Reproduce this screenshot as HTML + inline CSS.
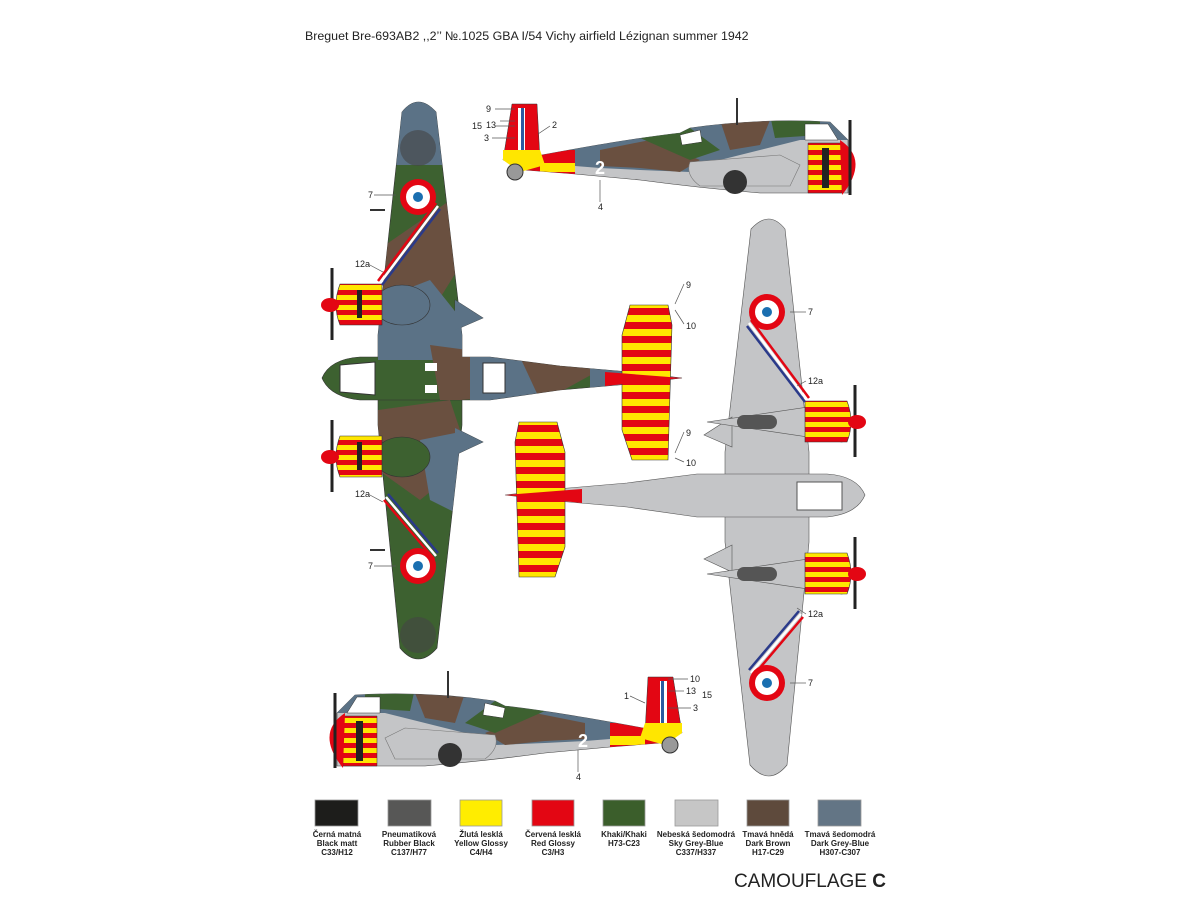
<!DOCTYPE html>
<html><head><meta charset="utf-8"><style>
html,body{margin:0;padding:0;background:#fff}
svg{display:block}
text{font-family:"Liberation Sans",sans-serif}
</style></head><body>
<svg width="1200" height="900" viewBox="0 0 1200 900" xmlns="http://www.w3.org/2000/svg">
<defs>
<pattern id="ry" width="14" height="14" patternUnits="userSpaceOnUse">
<rect width="14" height="14" fill="#ffe600"/><rect width="14" height="7" fill="#e30613"/></pattern>
<pattern id="rys" width="10" height="10" patternUnits="userSpaceOnUse">
<rect width="10" height="10" fill="#ffe600"/><rect width="10" height="5" fill="#e30613"/></pattern>
<g id="wing">
<path d="M402,112 Q418,92 436,112 L462,335 L462,425 L437,648 Q418,670 400,648 L378,425 L378,335 Z"/>
<path d="M455,300 L483,318 L455,330 Z"/><path d="M455,428 L483,442 L455,455 Z"/>
</g>
<g id="fus"><path d="M322,378 Q330,359 360,357 L490,357 L560,366 L630,372 L682,378 L630,384 L560,390 L490,400 L360,400 Q330,397 322,378 Z"/></g>
<clipPath id="cw">
<path d="M402,112 Q418,92 436,112 L462,335 L462,425 L437,648 Q418,670 400,648 L378,425 L378,335 Z"/>
<path d="M322,378 Q330,359 360,357 L490,357 L560,366 L630,372 L682,378 L630,384 L560,390 L490,400 L360,400 Q330,397 322,378 Z"/>
</clipPath>
<clipPath id="cs">
<path d="M525,158 C560,152 620,140 680,133 L690,128 Q760,118 830,122 L848,140 L848,193 L760,193 Q700,188 640,180 L575,174 L525,170 Z"/>
</clipPath>
</defs>

<text x="305" y="40" font-size="12.4" fill="#222">Breguet Bre-693AB2 ,,2’’ №.1025 GBA I/54 Vichy airfield Lézignan summer 1942</text>

<!-- TOP VIEW (camouflage) -->
<g>
<g fill="#3d6130" stroke="#333" stroke-width="0.6"><use href="#wing"/><use href="#fus"/></g>
<g clip-path="url(#cw)">
<rect x="370" y="95" width="100" height="70" fill="#5b7286"/>
<path d="M378,250 L465,190 L470,250 L420,330 L378,320 Z" fill="#6a5040"/>
<path d="M378,300 L430,280 L470,330 L470,360 L378,360 Z" fill="#5b7286"/>
<path d="M430,345 L520,357 L600,370 L560,392 L460,400 L440,400 Z" fill="#6a5040"/>
<path d="M470,357 L520,357 L540,400 L470,400 Z" fill="#5b7286"/>
<path d="M590,366 L682,378 L590,390 Z" fill="#5b7286"/>
<path d="M378,410 L450,400 L470,460 L420,500 L378,470 Z" fill="#6a5040"/>
<path d="M420,440 L470,430 L470,520 L430,500 Z" fill="#5b7286"/>
<circle cx="418" cy="635" r="18" fill="#444" opacity="0.6"/>
<circle cx="418" cy="148" r="18" fill="#444" opacity="0.6"/>
</g>
<path d="M455,300 L483,318 L455,330 Z M455,428 L483,442 L455,455 Z" fill="#5b7286"/>
<path d="M340,365 L375,362 L375,395 L340,392 Z" fill="#fff" stroke="#333"/>
<rect x="483" y="363" width="22" height="30" fill="#fff" stroke="#333"/>
<rect x="425" y="363" width="12" height="8" fill="#fff"/><rect x="425" y="385" width="12" height="8" fill="#fff"/>
<path d="M630,305 L668,305 L672,325 L668,460 L632,460 L622,430 L622,335 Z" fill="url(#ry)" stroke="#333" stroke-width="0.6"/>
<path d="M605,372 L682,378 L605,386 Z" fill="#e30613"/>
<ellipse cx="402" cy="305" rx="28" ry="20" fill="#5b7286" stroke="#333" stroke-width="0.6"/>
<ellipse cx="402" cy="457" rx="28" ry="20" fill="#3d6130" stroke="#333" stroke-width="0.6"/>
<path d="M340,284 L382,284 L382,325 L340,325 Q332,305 340,284 Z" fill="url(#rys)" stroke="#333" stroke-width="0.6"/>
<path d="M340,436 L382,436 L382,477 L340,477 Q332,457 340,436 Z" fill="url(#rys)" stroke="#333" stroke-width="0.6"/>
<rect x="357" y="290" width="5" height="28" fill="#222"/><rect x="357" y="442" width="5" height="28" fill="#222"/>
<line x1="332" y1="268" x2="332" y2="340" stroke="#222" stroke-width="3"/>
<line x1="332" y1="420" x2="332" y2="492" stroke="#222" stroke-width="3"/>
<ellipse cx="330" cy="305" rx="9" ry="7" fill="#e30613"/><ellipse cx="330" cy="457" rx="9" ry="7" fill="#e30613"/>
<g stroke-width="2.5"><line x1="378" y1="281" x2="436" y2="203" stroke="#e30613"/><line x1="380" y1="283" x2="438" y2="206" stroke="#fff"/><line x1="382" y1="285" x2="440" y2="209" stroke="#2a3a8a"/>
<line x1="386" y1="497" x2="436" y2="556" stroke="#fff"/><line x1="388" y1="494" x2="438" y2="553" stroke="#2a3a8a"/><line x1="384" y1="500" x2="434" y2="559" stroke="#e30613"/></g>
<circle cx="418" cy="197" r="18" fill="#e30613"/><circle cx="418" cy="197" r="12" fill="#fff"/><circle cx="418" cy="197" r="5" fill="#1a6fb0"/>
<circle cx="418" cy="566" r="18" fill="#e30613"/><circle cx="418" cy="566" r="12" fill="#fff"/><circle cx="418" cy="566" r="5" fill="#1a6fb0"/>
<line x1="370" y1="210" x2="385" y2="210" stroke="#333" stroke-width="2"/>
<line x1="370" y1="550" x2="385" y2="550" stroke="#333" stroke-width="2"/>
</g>

<!-- BOTTOM VIEW (grey) mirrored -->
<g transform="translate(1187,117) scale(-1,1)">
<g fill="#c4c5c7" stroke="#555" stroke-width="0.6"><use href="#wing"/><use href="#fus"/></g>
<rect x="345" y="365" width="45" height="28" fill="#fff" stroke="#555"/>
<path d="M630,305 L668,305 L672,325 L668,460 L632,460 L622,430 L622,335 Z" fill="url(#ry)" stroke="#333" stroke-width="0.6"/>
<path d="M605,372 L682,378 L605,386 Z" fill="#e30613"/>
<path d="M345,285 L480,305 L345,325 Z" fill="#c4c5c7" stroke="#555" stroke-width="0.6"/>
<path d="M345,437 L480,457 L345,477 Z" fill="#c4c5c7" stroke="#555" stroke-width="0.6"/>
<rect x="410" y="298" width="40" height="14" rx="7" fill="#555"/><rect x="410" y="450" width="40" height="14" rx="7" fill="#555"/>
<path d="M340,284 L382,284 L382,325 L340,325 Q332,305 340,284 Z" fill="url(#rys)" stroke="#333" stroke-width="0.6"/>
<path d="M340,436 L382,436 L382,477 L340,477 Q332,457 340,436 Z" fill="url(#rys)" stroke="#333" stroke-width="0.6"/>
<line x1="332" y1="268" x2="332" y2="340" stroke="#222" stroke-width="3"/>
<line x1="332" y1="420" x2="332" y2="492" stroke="#222" stroke-width="3"/>
<ellipse cx="330" cy="305" rx="9" ry="7" fill="#e30613"/><ellipse cx="330" cy="457" rx="9" ry="7" fill="#e30613"/>
<g stroke-width="2.5"><line x1="378" y1="281" x2="436" y2="203" stroke="#e30613"/><line x1="380" y1="283" x2="438" y2="206" stroke="#fff"/><line x1="382" y1="285" x2="440" y2="209" stroke="#2a3a8a"/>
<line x1="386" y1="497" x2="436" y2="556" stroke="#fff"/><line x1="388" y1="494" x2="438" y2="553" stroke="#2a3a8a"/><line x1="384" y1="500" x2="434" y2="559" stroke="#e30613"/></g>
<circle cx="420" cy="195" r="18" fill="#e30613"/><circle cx="420" cy="195" r="12" fill="#fff"/><circle cx="420" cy="195" r="5" fill="#1a6fb0"/>
<circle cx="420" cy="566" r="18" fill="#e30613"/><circle cx="420" cy="566" r="12" fill="#fff"/><circle cx="420" cy="566" r="5" fill="#1a6fb0"/>
</g>

<!-- SIDE VIEW top -->
<g id="side">
<path d="M525,158 C560,152 620,140 680,133 L690,128 Q760,118 830,122 L848,140 L848,193 L760,193 Q700,188 640,180 L575,174 L525,170 Z" fill="#c4c5c7" stroke="#444" stroke-width="0.6"/>
<g clip-path="url(#cs)">
<path d="M520,100 L860,100 L860,140 L800,140 L760,150 L720,160 L690,172 L640,170 L600,168 L575,166 L520,166 Z" fill="#5b7286"/>
<path d="M600,150 L650,140 L700,160 L680,172 L640,168 L600,166 Z" fill="#6a5040"/>
<path d="M640,138 L690,128 L720,150 L690,160 Z" fill="#3d6130"/>
<path d="M720,120 L770,120 L760,145 L730,150 Z" fill="#6a5040"/>
<path d="M770,115 L820,115 L820,135 L775,138 Z" fill="#3d6130"/>
<path d="M525,150 L575,150 L575,180 L525,180 Z" fill="#e30613"/>
<path d="M540,163 L575,163 L575,172 L540,172 Z" fill="#ffe600"/>
</g>
<path d="M680,135 L700,130 L702,142 L682,145 Z" fill="#fff" stroke="#333" stroke-width="0.5"/>
<path d="M805,124 L828,124 L838,140 L805,140 Z" fill="#fff" stroke="#333" stroke-width="0.5"/>
<path d="M690,162 L780,155 L800,165 L790,186 L700,186 Q685,175 690,162 Z" fill="#c4c5c7" stroke="#777" stroke-width="0.6"/>
<path d="M512,104 L537,104 L540,160 L503,160 Z" fill="#e30613" stroke="#333" stroke-width="0.5"/>
<rect x="518" y="108" width="7" height="52" fill="#fff"/><rect x="521" y="108" width="3" height="52" fill="#2a5aa0"/>
<path d="M503,150 L540,150 L545,165 L520,172 L503,160 Z" fill="#ffe600"/>
<path d="M808,143 L842,143 L842,193 L808,193 Z" fill="url(#rys)" stroke="#333" stroke-width="0.5"/>
<rect x="822" y="148" width="7" height="40" fill="#222"/>
<path d="M840,140 Q870,160 842,195 Z" fill="#e30613"/>
<line x1="850" y1="120" x2="850" y2="195" stroke="#222" stroke-width="3"/>
<line x1="737" y1="98" x2="737" y2="125" stroke="#333" stroke-width="2"/>
<circle cx="735" cy="182" r="12" fill="#333"/>
<circle cx="515" cy="172" r="8" fill="#999" stroke="#333"/>
</g>
<text x="595" y="174" font-size="18" font-weight="bold" fill="#fff">2</text>
<g transform="translate(1185,573) scale(-1,1)"><use href="#side"/></g>
<text x="578" y="747" font-size="18" font-weight="bold" fill="#fff">2</text>

<!-- labels -->
<g font-size="9" fill="#222">
<text x="486" y="112">9</text><text x="486" y="128">13</text><text x="472" y="129">15</text><text x="484" y="141">3</text>
<text x="552" y="128">2</text><text x="598" y="210">4</text>
<text x="368" y="198">7</text><text x="355" y="267">12a</text><text x="355" y="497">12a</text><text x="368" y="569">7</text>
<text x="686" y="288">9</text><text x="686" y="329">10</text><text x="686" y="436">9</text><text x="686" y="466">10</text>
<text x="808" y="315">7</text><text x="808" y="384">12a</text><text x="808" y="617">12a</text><text x="808" y="686">7</text>
<text x="690" y="682">10</text><text x="624" y="699">1</text><text x="686" y="694">13</text><text x="702" y="698">15</text><text x="693" y="711">3</text>
<text x="576" y="780">4</text>
</g>
<g stroke="#555" stroke-width="0.7">
<line x1="495" y1="109" x2="515" y2="109"/><line x1="500" y1="121" x2="515" y2="121"/><line x1="495" y1="126" x2="515" y2="126"/><line x1="492" y1="138" x2="515" y2="138"/>
<line x1="550" y1="126" x2="538" y2="134"/><line x1="600" y1="180" x2="600" y2="202"/>
<line x1="374" y1="195" x2="396" y2="195"/><line x1="368" y1="264" x2="383" y2="272"/><line x1="368" y1="494" x2="383" y2="502"/><line x1="374" y1="566" x2="396" y2="566"/>
<line x1="684" y1="284" x2="675" y2="304"/><line x1="684" y1="324" x2="675" y2="310"/><line x1="684" y1="432" x2="675" y2="453"/><line x1="684" y1="462" x2="675" y2="458"/>
<line x1="806" y1="312" x2="790" y2="312"/><line x1="806" y1="381" x2="797" y2="386"/><line x1="806" y1="614" x2="797" y2="608"/><line x1="806" y1="683" x2="790" y2="683"/>
<line x1="688" y1="679" x2="668" y2="679"/><line x1="630" y1="696" x2="645" y2="703"/><line x1="684" y1="691" x2="668" y2="691"/><line x1="691" y1="708" x2="668" y2="708"/>
<line x1="578" y1="750" x2="578" y2="772"/>
</g>

<!-- legend -->
<g stroke="#999" stroke-width="0.8">
<rect x="315" y="800" width="43" height="26" fill="#1d1d1b"/>
<rect x="388" y="800" width="43" height="26" fill="#575756"/>
<rect x="460" y="800" width="42" height="26" fill="#ffed00"/>
<rect x="532" y="800" width="42" height="26" fill="#e30613"/>
<rect x="603" y="800" width="42" height="26" fill="#3b5e2b"/>
<rect x="675" y="800" width="43" height="26" fill="#c6c6c6"/>
<rect x="747" y="800" width="42" height="26" fill="#5e4a3c"/>
<rect x="818" y="800" width="43" height="26" fill="#637585"/>
</g>
<g font-size="8" font-weight="bold" fill="#222" text-anchor="middle">
<text x="337" y="837">Černá matná</text><text x="337" y="846">Black matt</text><text x="337" y="855">C33/H12</text>
<text x="409" y="837">Pneumatiková</text><text x="409" y="846">Rubber Black</text><text x="409" y="855">C137/H77</text>
<text x="481" y="837">Žlutá lesklá</text><text x="481" y="846">Yellow Glossy</text><text x="481" y="855">C4/H4</text>
<text x="553" y="837">Červená lesklá</text><text x="553" y="846">Red Glossy</text><text x="553" y="855">C3/H3</text>
<text x="624" y="837">Khaki/Khaki</text><text x="624" y="846">H73-C23</text>
<text x="696" y="837">Nebeská šedomodrá</text><text x="696" y="846">Sky Grey-Blue</text><text x="696" y="855">C337/H337</text>
<text x="768" y="837">Tmavá hnědá</text><text x="768" y="846">Dark Brown</text><text x="768" y="855">H17-C29</text>
<text x="840" y="837">Tmavá šedomodrá</text><text x="840" y="846">Dark Grey-Blue</text><text x="840" y="855">H307-C307</text>
</g>
<text x="886" y="887" font-size="19" fill="#222" text-anchor="end">CAMOUFLAGE <tspan font-weight="bold">C</tspan></text>
</svg>
</body></html>
